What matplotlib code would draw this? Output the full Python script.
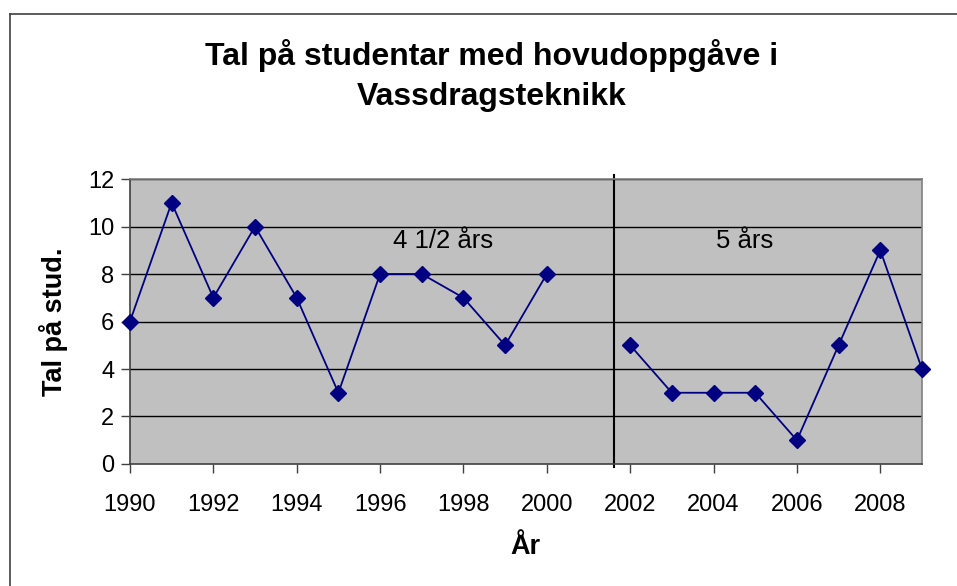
import matplotlib.pyplot as plt
import numpy as np

plt.rcParams['font.family'] = ['Liberation Sans', 'DejaVu Sans']

# studentar per år, 2001 manglar
years = [1990, 1991, 1992, 1993, 1994, 1995, 1996, 1997, 1998, 1999, 2000,
         2001, 2002, 2003, 2004, 2005, 2006, 2007, 2008, 2009]
students = [6, 11, 7, 10, 7, 3, 8, 8, 7, 5, 8,
            np.nan, 5, 3, 3, 3, 1, 5, 9, 4]
x_ticks = list(range(1990, 2009, 2))
y_ticks = list(range(0, 13, 2))
split_year = 2001.6
period_labels = ['4 1/2 års', '5 års']
period_x = [1997.5, 2004.75]
period_y = 9.4

fig = plt.figure(figsize=(9.57, 5.86), dpi=100)
ax = fig.add_axes([0.1358, 0.2082, 0.8276, 0.4863])
ax.set_facecolor('#C0C0C0')

for y in y_ticks[1:]:
    ax.axhline(y, color='black', linewidth=1, zorder=1)

ax.plot(years, students, color='#000080', marker='D', markersize=8.5,
        linewidth=1.3, zorder=3, clip_on=False)

ax.plot([split_year, split_year], [12.17, -0.12], color='black', linewidth=1.5,
        zorder=2, clip_on=False)

for lbl, px in zip(period_labels, period_x):
    ax.text(px, period_y, lbl, ha='center', va='center', fontsize=18.5)

ax.set_xlim(1990, 2009)
ax.set_ylim(0, 12)
ax.set_xticks(x_ticks)
ax.set_yticks(y_ticks)
ax.tick_params(axis='both', labelsize=17, direction='out', length=6.3,
               width=1, color='#404040')
ax.tick_params(axis='x', pad=15)
ax.tick_params(axis='y', pad=5)

for side in ['left', 'bottom']:
    ax.spines[side].set_color('#404040')
    ax.spines[side].set_linewidth(1.2)
for side in ['top', 'right']:
    ax.spines[side].set_color('#808080')
    ax.spines[side].set_linewidth(1.2)

ax.set_xlabel('År', fontsize=19.5, fontweight='bold', va='center')
ax.xaxis.set_label_coords(0.499, -0.291)
ax.set_ylabel('Tal på stud.', fontsize=19.5, fontweight='bold',
              ha='center', va='center')
ax.yaxis.set_label_coords(-0.097, 0.5)

fig.text(491.5 / 957, 1 - 56 / 586, 'Tal på studentar med hovudoppgåve i',
         ha='center', va='center', fontsize=23, fontweight='bold')
fig.text(491.5 / 957, 1 - 97 / 586, 'Vassdragsteknikk', ha='center', va='center',
         fontsize=23, fontweight='bold')

# ramme rundt diagrammet (høgre og nedre kant utanfor biletet)
fig.add_artist(plt.Line2D([10 / 957, 10 / 957], [0, 1 - 14 / 586],
                          transform=fig.transFigure, color='#404040', linewidth=1.2))
fig.add_artist(plt.Line2D([10 / 957, 1], [1 - 14 / 586, 1 - 14 / 586],
                          transform=fig.transFigure, color='#404040', linewidth=1.2))

fig.savefig('out.png', dpi=100)
